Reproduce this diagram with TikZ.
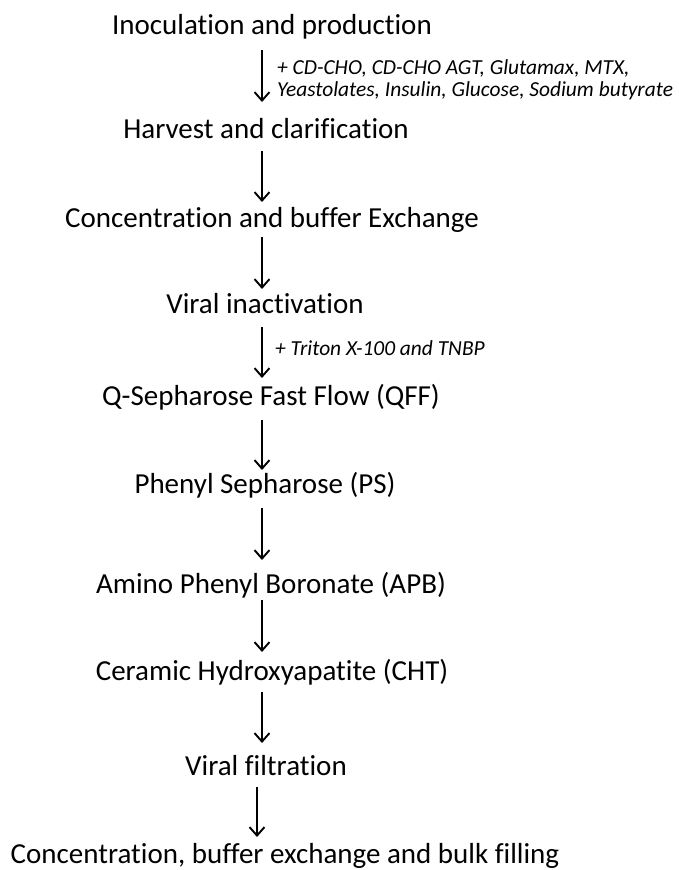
\documentclass[tikz,border=0pt]{standalone}
\usepackage{fontspec}
\setmainfont[Ligatures=NoCommon]{Carlito}
\usetikzlibrary{arrows.meta,calc}
\tikzset{
  stage/.style={anchor=base, inner sep=0pt, font=\fontsize{29}{34}\selectfont},
  note/.style={anchor=base west, inner sep=0pt, font=\fontsize{21.4}{22}\selectfont\itshape},
  flow/.style={line width=1.9pt, -{Straight Barb[length=8.5pt,width=15pt,line width=1.9pt]}}
}
\begin{document}
\begin{tikzpicture}[x=1pt,y=-1pt]
\useasboundingbox (0,0) rectangle (678,870);
\coordinate (ax) at (262,0);
\coordinate (bx) at (257,0);
\node[stage] (n1) at (272,34) {Inoculation and production};
\node[stage] (n2) at (266,138) {Harvest and clarification};
\node[stage] (n3) at (272,227) {Concentration and buffer Exchange};
\node[stage] (n4) at (265,313) {Viral inactivation};
\node[stage] (n5) at (271,405) {Q-Sepharose Fast Flow (QFF)};
\node[stage] (n6) at (265,493) {Phenyl Sepharose (PS)};
\node[stage] (n7) at (271,593) {Amino Phenyl Boronate (APB)};
\node[stage] (n8) at (272,680) {Ceramic Hydroxyapatite (CHT)};
\node[stage] (n9) at (266,775) {Viral filtration};
\node[stage] (n10) at (285,863) {Concentration, buffer exchange and bulk filling};

\node[note] (l1) at (277,74) {\begin{tabular}[t]{@{}l@{}}+ CD-CHO, CD-CHO AGT, Glutamax, MTX,\\Yeastolates, Insulin, Glucose, Sodium butyrate\end{tabular}};
\node[note] (l4) at (275,355) {+ Triton X-100 and TNBP};

\draw[flow] ($(n1.base -| ax)+(0,16)$) -- ($(n2.base -| ax)+(0,-36)$);
\draw[flow] ($(n2.base -| ax)+(0,13)$) -- ($(n3.base -| ax)+(0,-25)$);
\draw[flow] ($(n3.base -| ax)+(0,10)$) -- ($(n4.base -| ax)+(0,-24)$);
\draw[flow] ($(n4.base -| ax)+(0,14)$) -- ($(n5.base -| ax)+(0,-27)$);
\draw[flow] ($(n5.base -| ax)+(0,15)$) -- ($(n6.base -| ax)+(0,-23)$);
\draw[flow] ($(n6.base -| ax)+(0,15)$) -- ($(n7.base -| ax)+(0,-33)$);
\draw[flow] ($(n7.base -| ax)+(0,7)$) -- ($(n8.base -| ax)+(0,-28)$);
\draw[flow] ($(n8.base -| ax)+(0,12)$) -- ($(n9.base -| ax)+(0,-32)$);
\draw[flow] ($(n9.base -| bx)+(0,12)$) -- ($(n10.base -| bx)+(0,-26)$);
\end{tikzpicture}
\end{document}
